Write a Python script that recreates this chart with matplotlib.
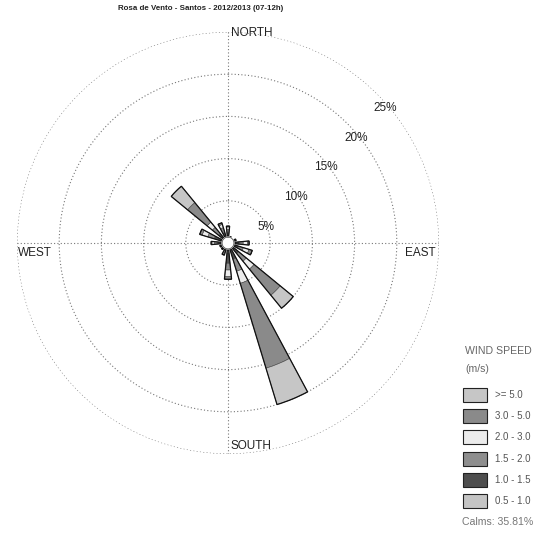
import numpy as np
import matplotlib.pyplot as plt

# wind directions (compass bearings, deg) and frequency (%) per speed class
directions = [0, 22.5, 45, 67.5, 90, 112.5, 135, 157.5,
              180, 202.5, 225, 247.5, 270, 292.5, 315, 337.5]

speed_labels = [">= 5.0", "3.0 - 5.0", "2.0 - 3.0", "1.5 - 2.0", "1.0 - 1.5", "0.5 - 1.0"]

# stacked from the centre outwards: 0.5-1.0, 1.0-1.5, 1.5-2.0, 2.0-3.0, 3.0-5.0, >=5.0
f_05_10 = [0.6, 0.3, 0.2, 0.3, 0.6, 0.6, 0.6, 0.8, 1.2, 0.5, 0.4, 0.4, 0.6, 0.8, 0.6, 0.6]
f_10_15 = [0.6, 0.2, 0.1, 0.3, 0.7, 0.7, 1.0, 1.2, 1.2, 0.4, 0.3, 0.3, 0.6, 0.9, 0.8, 0.7]
f_15_20 = [0.4, 0.1, 0.1, 0.2, 0.5, 0.6, 1.2, 1.5, 0.8, 0.3, 0.2, 0.2, 0.4, 0.8, 1.0, 0.6]
f_20_30 = [0.3, 0.1, 0.1, 0.1, 0.5, 0.7, 1.2, 1.5, 0.8, 0.2, 0.1, 0.1, 0.3, 0.7, 0.8, 0.4]
f_30_50 = [0.1, 0.1, 0.0, 0.1, 0.2, 0.4, 4.0, 10.5, 0.3, 0.1, 0.0, 0.0, 0.1, 0.3, 3.0, 0.2]
f_50 = [0.0, 0.0, 0.0, 0.0, 0.0, 0.0, 2.0, 4.5, 0.0, 0.0, 0.0, 0.0, 0.0, 0.0, 2.5, 0.0]

calms = 35.81
rings = [5, 10, 15, 20, 25]

bins = [f_05_10, f_10_15, f_15_20, f_20_30, f_30_50, f_50]
colors = ["#c4c4c4", "#4e4e4e", "#8e8e8e", "#ececec", "#8a8a8a", "#c6c6c6"]

fig = plt.figure(figsize=(5.37, 5.35), dpi=100)
ax = fig.add_axes([17 / 537, 81 / 535, 422 / 537, 422 / 535], projection="polar")
ax.set_theta_zero_location("N")
ax.set_theta_direction(-1)

theta = np.deg2rad(directions)
width = np.deg2rad(11.25)
bottom = np.zeros(len(directions))
for vals, c in zip(bins, colors):
    vals = np.array(vals)
    ax.bar(theta, vals, width=width, bottom=bottom, color=c,
           edgecolor="#444444", linewidth=0.4, zorder=3)
    bottom += vals
# darker outline round each petal
ax.bar(theta, bottom, width=width, fill=False, edgecolor="#111111", linewidth=0.9, zorder=3)

# calm circle in the middle
tc = np.linspace(0, 2 * np.pi, 100)
ax.fill(tc, np.full_like(tc, 0.7), color="white", zorder=4)
ax.plot(tc, np.full_like(tc, 0.7), color="#555555", lw=0.6, zorder=4)

ax.set_ylim(0, 25)
ax.set_rgrids(rings, labels=[""] * len(rings))
ax.set_thetagrids([0, 90, 180, 270], labels=[""] * 4)
ax.grid(True, color="#777777", linestyle=(0, (1, 2)), linewidth=0.8)
ax.spines["polar"].set_visible(False)

for r in rings:
    ax.annotate(f"{r}%", xy=(np.pi / 4, r), xytext=(6, -10), textcoords="offset points",
                ha="center", va="center", fontsize=8.5, color="#222222",
                family="Liberation Sans")

lab = dict(fontsize=8.5, color="#222222", family="Liberation Sans", transform=ax.transAxes)
ax.text(0.507, 0.998, "NORTH", ha="left", va="center", **lab)
ax.text(0.507, 0.019, "SOUTH", ha="left", va="center", **lab)
ax.text(0.003, 0.476, "WEST", ha="left", va="center", **lab)
ax.text(0.993, 0.476, "EAST", ha="right", va="center", **lab)

fig.text(201 / 537, 1 - 9 / 535, "Rosa de Vento - Santos - 2012/2013 (07-12h)",
         ha="center", va="center", fontsize=5.7, fontweight="bold", color="#222222",
         family="Liberation Sans")

# legend
fig.text(465 / 537, 1 - 351 / 535, "WIND SPEED", fontsize=7.6, color="#666666",
         va="center", family="Liberation Sans")
fig.text(465 / 537, 1 - 369 / 535, "(m/s)", fontsize=7.6, color="#666666",
         va="center", family="Liberation Sans")
y0 = 395
for i, (lbl, c) in enumerate(zip(speed_labels, colors[::-1])):
    yc = y0 + i * 21.2
    fig.patches.append(plt.Rectangle((463 / 537, 1 - (yc + 7) / 535), 24 / 537, 14 / 535,
                                     transform=fig.transFigure, facecolor=c,
                                     edgecolor="#222222", linewidth=0.8))
    fig.text(495 / 537, 1 - yc / 535, lbl, fontsize=7, color="#555555",
             va="center", family="Liberation Sans")
fig.text(462 / 537, 1 - 522 / 535, f"Calms: {calms:.2f}%", fontsize=7.6, color="#777777",
         va="center", family="Liberation Sans")

fig.savefig("out.png", dpi=100)
